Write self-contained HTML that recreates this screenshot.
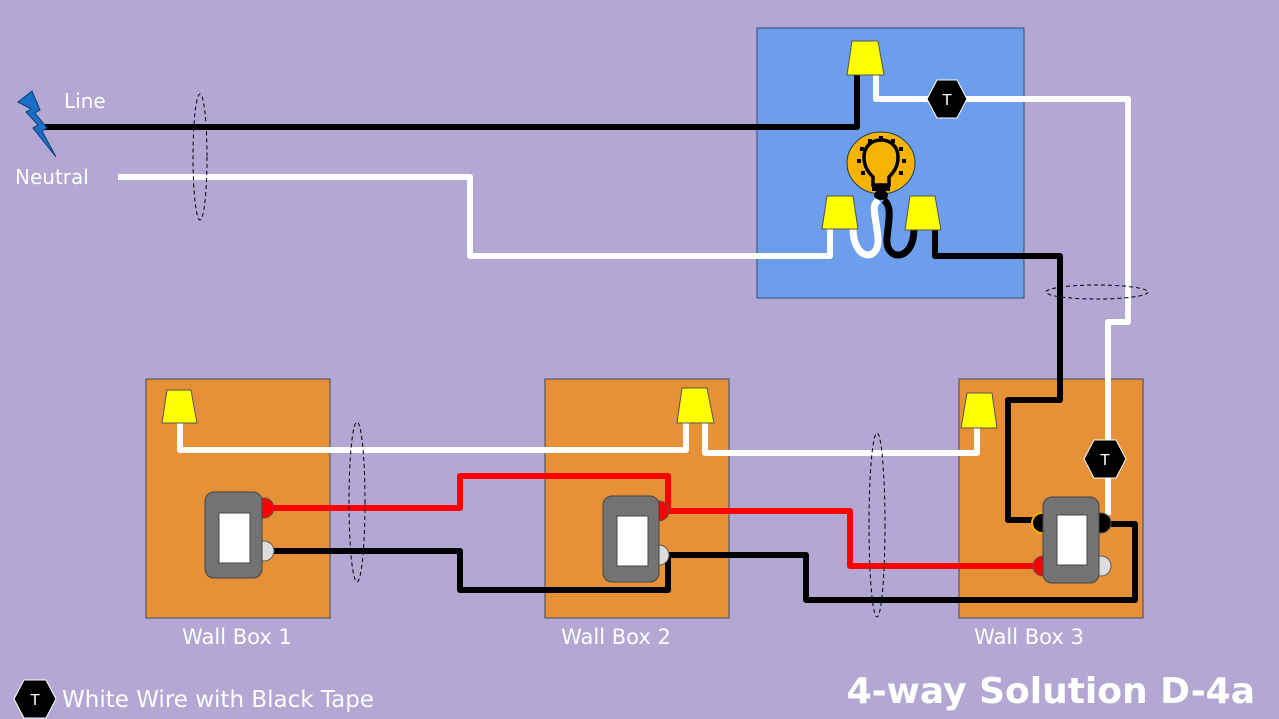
<!DOCTYPE html>
<html><head><style>html,body{margin:0;padding:0;background:#b3a7d4}svg{display:block}</style></head><body>
<svg width="1279" height="719" viewBox="0 0 1279 719" xmlns="http://www.w3.org/2000/svg" font-family="DejaVu Sans, sans-serif">
<rect width="1279" height="719" fill="#b3a7d4"/>
<rect x="757" y="28" width="267" height="270" fill="#6d9eeb" stroke="#2f4f6f" stroke-width="1"/>
<g fill="#e69138" stroke="#3d4b5a" stroke-width="1">
<rect x="146" y="379" width="184" height="239"/>
<rect x="545" y="379" width="184" height="239"/>
<rect x="959" y="379" width="184" height="239"/>
</g>
<g fill="none" stroke-width="6" stroke-linejoin="round">
<polyline points="45,127 857,127 857,74" stroke="#000"/>
<polyline points="118,177 470,177 470,256 830,256 830,228" stroke="#fff"/>
<polyline points="876,74 876,99 1128,99 1128,322 1108,322 1108,515" stroke="#fff"/>
<polyline points="935,229 935,256 1060,256 1060,400 1008,400 1008,520 1040,520" stroke="#000"/>
<polyline points="180,422 180,450 686,450 686,422" stroke="#fff"/>
<polyline points="705,422 705,453 977,453 977,427" stroke="#fff"/>
<polyline points="270,508 460,508 460,476 668,476 668,508" stroke="#f00"/>
<polyline points="664,511 850,511 850,566 1040,566" stroke="#f00"/>
<polyline points="270,551 460,551 460,590 668,590 668,558" stroke="#000"/>
<polyline points="664,555 806,555 806,600 1135,600 1135,524 1100,524" stroke="#000"/>
<path d="M853,228 C853,262 880,262 878,238 C876,215 870,205 879,200" stroke="#fff" stroke-width="7"/>
<path d="M914,229 C914,262 885,262 887,238 C889,218 892,207 884,200" stroke="#000" stroke-width="7"/>
</g>
<g fill="none" stroke="#000" stroke-dasharray="4,3" stroke-width="1">
<ellipse cx="200" cy="157" rx="7" ry="63"/>
<ellipse cx="357" cy="502" rx="8" ry="80"/>
<ellipse cx="877" cy="525" rx="8" ry="92"/>
<ellipse cx="1097" cy="292" rx="51" ry="7"/>
</g>
<g fill="#ffff00" stroke="#555" stroke-width="1">
<polygon points="852,41 878,41 884,75 847,75"/>
<polygon points="827,196 853,196 858,229 822,229"/>
<polygon points="910,196 935,196 941,230 905,230"/>
<polygon points="167,390 191,390 197,423 162,423"/>
<polygon points="682,388 707,388 714,423 677,423"/>
<polygon points="967,393 992,393 997,428 961,428"/>
</g>
<ellipse cx="881" cy="163" rx="34" ry="31" fill="#f6b400" stroke="#1e3a5a" stroke-width="1"/>
<path d="M873,185 L873,177 C866,170 864,164 864,157 C864,147 871,140 881,140 C891,140 898,147 898,157 C898,164 896,170 889,177 L889,185 Z" fill="none" stroke="#000" stroke-width="3.5"/>
<rect x="872" y="186" width="18" height="5" fill="#000"/>
<ellipse cx="881" cy="195" rx="7" ry="5" fill="#000"/>
<g fill="#000">
<rect x="879" y="136" width="4" height="4"/><rect x="868" y="139" width="4" height="4"/><rect x="891" y="139" width="4" height="4"/>
<rect x="860" y="147" width="4" height="4"/><rect x="899" y="147" width="4" height="4"/><rect x="857" y="159" width="4" height="4"/>
<rect x="902" y="159" width="4" height="4"/><rect x="861" y="171" width="4" height="4"/><rect x="899" y="171" width="4" height="4"/>
</g>
<g stroke="#555" stroke-width="1">
<circle cx="264" cy="508" r="10" fill="#f00"/>
<circle cx="264" cy="551" r="10" fill="#ddd"/>
<circle cx="659" cy="511" r="10" fill="#f00"/>
<circle cx="659" cy="555" r="10" fill="#ddd"/>
<circle cx="1042" cy="523" r="10" fill="#000" stroke="#f6b400" stroke-width="2"/>
<circle cx="1043" cy="566" r="10" fill="#f00"/>
<circle cx="1101" cy="523" r="10" fill="#000"/>
<circle cx="1101" cy="566" r="10" fill="#ddd"/>
</g>
<g fill="#737373" stroke="#444" stroke-width="1">
<rect x="205" y="492" width="57" height="86" rx="9"/>
<rect x="603" y="496" width="56" height="86" rx="9"/>
<rect x="1043" y="497" width="56" height="86" rx="9"/>
</g>
<g fill="#fff" stroke="#444" stroke-width="1">
<rect x="219" y="513" width="31" height="50"/>
<rect x="617" y="516" width="31" height="50"/>
<rect x="1057" y="515" width="30" height="50"/>
</g>
<g stroke="#fff" stroke-width="1" fill="#000">
<polygon points="927,99 937,80 957,80 967,99 957,118 937,118"/>
<polygon points="1084,459 1094,440 1116,440 1126,459 1116,478 1094,478"/>
<polygon points="14,699 24,680 46,680 56,699 46,718 24,718"/>
</g>
<g fill="#fff" font-size="16" text-anchor="middle" font-family="Liberation Sans, sans-serif">
<text x="947" y="105">T</text><text x="1105" y="465">T</text><text x="35" y="705">T</text>
</g>
<polygon points="18,102 32,91 40,110 35,113 47,128 42,131 56,157 33,128 38,125 26,112 31,109" fill="#1a6fc4" stroke="#0b3d78" stroke-width="1"/>
<g fill="#fff" font-size="20">
<text x="64" y="108">Line</text>
<text x="15" y="184">Neutral</text>
<text x="237" y="644" text-anchor="middle" font-size="21">Wall Box 1</text>
<text x="616" y="644" text-anchor="middle" font-size="21">Wall Box 2</text>
<text x="1029" y="644" text-anchor="middle" font-size="21">Wall Box 3</text>
<text x="62" y="707" font-size="23">White Wire with Black Tape</text>
<text x="1255" y="703" text-anchor="end" font-size="36" font-weight="bold">4-way Solution D-4a</text>
</g>
</svg>
</body></html>
